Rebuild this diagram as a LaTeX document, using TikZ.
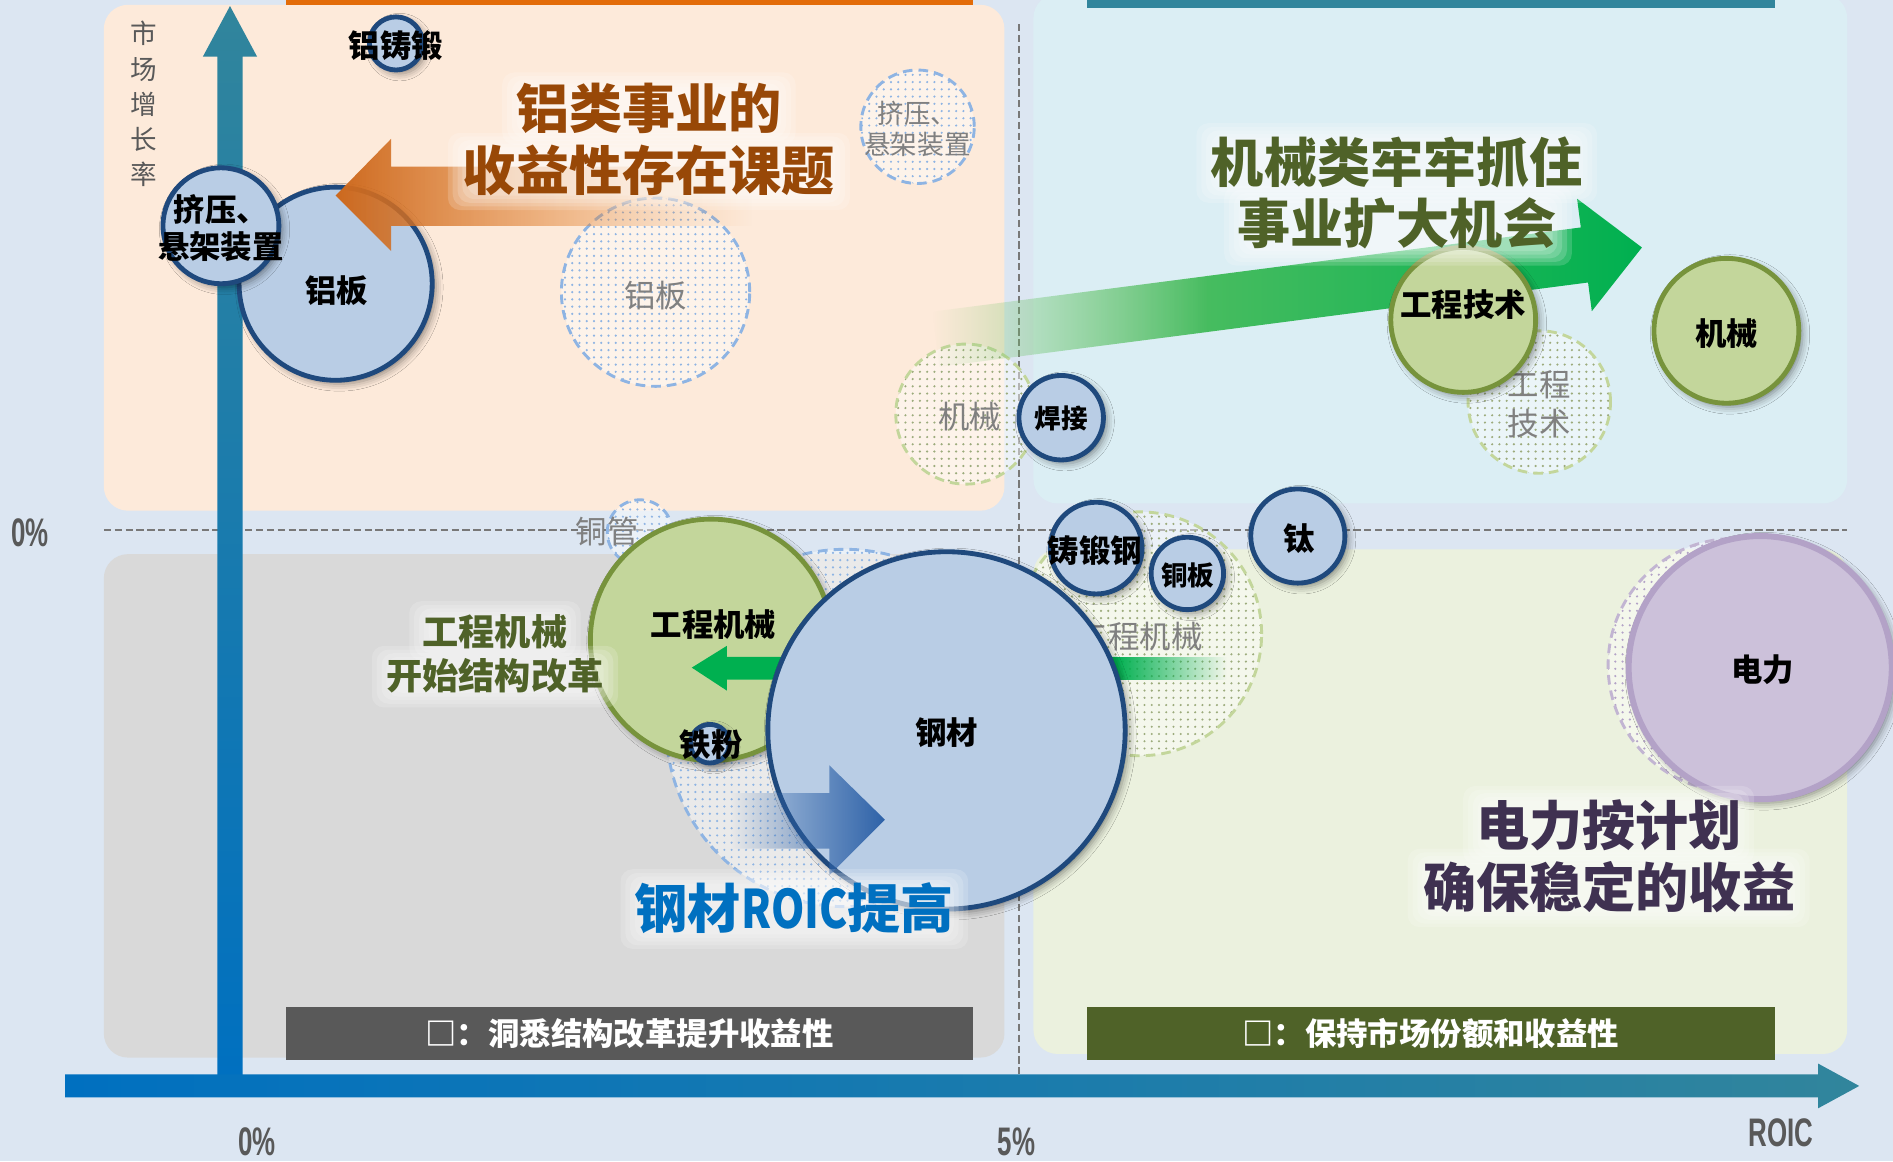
\documentclass[tikz,border=0pt]{standalone}
\usepackage{graphicx}
\usepackage{fontspec}
\setmainfont{Noto Sans CJK SC}
\newfontfamily\numfont{Liberation Sans}
\usetikzlibrary{shadows.blur,patterns,fadings}

\definecolor{bgc}{RGB}{220,230,242}
\definecolor{peach}{RGB}{253,234,218}
\definecolor{lblue}{RGB}{219,238,244}
\definecolor{lgray}{RGB}{217,217,217}
\definecolor{lgreen}{RGB}{235,241,222}
\definecolor{orgbar}{RGB}{227,108,9}
\definecolor{tealbar}{RGB}{49,133,156}
\definecolor{dgray}{RGB}{89,89,89}
\definecolor{olive}{RGB}{79,98,40}
\definecolor{cblue}{RGB}{185,205,229}
\definecolor{cnavy}{RGB}{31,73,125}
\definecolor{cgreen}{RGB}{195,214,155}
\definecolor{cgreenD}{RGB}{119,147,60}
\definecolor{cpurp}{RGB}{204,193,218}
\definecolor{cpurpD}{RGB}{179,162,199}
\definecolor{gblue}{RGB}{142,180,227}
\definecolor{ggreen}{RGB}{195,214,155}
\definecolor{gtext}{RGB}{128,128,128}
\definecolor{axblue}{RGB}{0,112,192}
\definecolor{axteal}{RGB}{49,133,156}
\definecolor{txtbrown}{RGB}{152,72,7}
\definecolor{txtblue}{RGB}{0,112,192}
\definecolor{txtpurp}{RGB}{63,49,81}
\definecolor{arrgreen}{RGB}{0,176,80}
\definecolor{arrgreenL}{RGB}{130,200,110}
\definecolor{arrgreenM}{RGB}{70,188,95}
\definecolor{arrblue}{RGB}{46,98,168}
\definecolor{orgA}{RGB}{205,105,30}
\definecolor{orgB}{RGB}{240,140,50}
\definecolor{dashgray}{RGB}{120,120,120}

\tikzfading[name=fadeOrange, left color=transparent!0, middle color=transparent!0, right color=transparent!100]
\tikzfading[name=fadeBlue, left color=transparent!100, middle color=transparent!0, right color=transparent!0]
\tikzfading[name=fadeOut, left color=transparent!0, right color=transparent!100]
\tikzfading[name=fadeIn, left color=transparent!100, middle color=transparent!45, right color=transparent!0]

\newcommand\glowrect[4]{%
  \foreach \k in {0,...,4}{%
    \fill[white, fill opacity=0.17, rounded corners=5pt]
      ({#1+\k*4},{#2+\k*3}) rectangle ({#3-\k*4},{#4-\k*3});}}

\tikzset{
  solidc/.style={circle, draw=cnavy, line width=2pt, fill=cblue, inner sep=0pt,
    blur shadow={shadow xshift=1.5pt, shadow yshift=-1.5pt, shadow blur radius=3pt, shadow opacity=45}},
  greenc/.style={solidc, draw=cgreenD, fill=cgreen},
  purpc/.style={solidc, draw=cpurpD, fill=cpurp, line width=2.5pt},
  ghostb/.style={circle, inner sep=0pt, draw=gblue, line width=1.2pt, dash pattern=on 4pt off 2.5pt,
    preaction={fill=white, fill opacity=0.45}, pattern=dots, pattern color=gblue},
  ghostg/.style={ghostb, draw=ggreen, pattern color=ggreen!80!black},
  ghostp/.style={ghostb, draw=cpurpD!80, pattern color=cpurpD},
  lbl/.style={font=\bfseries\fontsize{13pt}{15.5pt}\selectfont, text=black, align=center, inner sep=0pt},
  lbls/.style={lbl, font=\bfseries\fontsize{11pt}{13pt}\selectfont},
  glbl/.style={font=\fontsize{13pt}{16pt}\selectfont, text=gtext, align=center, inner sep=0pt},
  glbls/.style={glbl, font=\fontsize{11pt}{13pt}\selectfont},
  big/.style={font=\bfseries\fontsize{22pt}{25.5pt}\selectfont, align=center, inner sep=0pt},
  mid/.style={font=\bfseries\fontsize{15pt}{18.5pt}\selectfont, align=center, inner sep=0pt},
  axlbl/.style={font=\numfont\bfseries\fontsize{16.5pt}{18pt}\selectfont, text=dgray, inner sep=0pt},
  labbox/.style={minimum height=22pt, inner sep=0pt, text=white, font=\bfseries\fontsize{13pt}{15pt}\selectfont},
  quad/.style={rounded corners=10pt},
  gridline/.style={dashgray, line width=0.6pt, dash pattern=on 3pt off 1.5pt},
}

\begin{document}
\begin{tikzpicture}[x=0.5pt, y=-0.5pt]
\useasboundingbox (0,0) rectangle (1568,962);
\fill[bgc] (0,0) rectangle (1568,962);

% quadrants
\fill[quad, peach]  (86,4)   rectangle (832,423);
\fill[quad, lblue]  (856,-5) rectangle (1530,417);
\fill[quad, lgray]  (86,459) rectangle (832,876);
\fill[quad, lgreen] (856,455) rectangle (1530,873);
\fill[orgbar]  (237,-2) rectangle (806,4);
\fill[tealbar] (900,-2) rectangle (1470,7);

\node (boxL) [labbox, fill=dgray, minimum width=284.5pt] at (521.5,856) {□：洞悉结构改革提升收益性};
\node (boxR) [labbox, fill=olive, minimum width=285pt] at (1185,856) {□：保持市场份额和收益性};

% grid lines
\draw[gridline] (86,439) -- (1530,439);
\draw[gridline] (844,20) -- (844,895);

% axes
\shade[top color=axteal, bottom color=axblue]
  (180,895) -- (180,47) -- (168,47) -- (190.5,5) -- (213,47) -- (201,47) -- (201,895) -- cycle;
\shade[left color=axblue, right color=axteal]
  (54,890) -- (1506,890) -- (1506,881) -- (1540,899.5) -- (1506,918) -- (1506,909) -- (54,909) -- cycle;

% ghost circles
\node (gPow)   [ghostp, minimum size=105pt] at (1437,551) {};
\node (gExt)   [ghostb, minimum size=47pt]  at (760,105) {};
\node (gAlu)   [ghostb, minimum size=78pt]  at (543,242) {};
\node (gMach)  [ghostg, minimum size=58pt]  at (800,343) {};
\node (gEng)   [ghostg, minimum size=59pt]  at (1275,333) {};
\node (gCu)    [ghostb, minimum size=27pt]  at (530,441) {};
\node (gCon)   [ghostg, minimum size=101pt] at (944,525) {};
\node (gSteel) [ghostb, minimum size=148pt] at (700,603) {};
\node (gExtT)  [glbls] at (760,107) {挤压、\\悬架装置};
\node (gAluT)  [glbl] at (543,245) {铝板};
\node (gMachT) [glbl] at (803,345) {机械};
\node (gEngT)  [glbl] at (1275,335) {工程\\技术};
\node (gCuT)   [glbl] at (503,440) {铜管};
\node (gConT)  [glbl] at (944,527) {工程机械};

% aluminium group
\node (alu) [solidc, minimum size=80pt] at (278,235) {};
\shade[left color=orgA, right color=orgB, path fading=fadeOrange]
  (623,138) -- (324,138) -- (324,115) -- (278,162) -- (324,208) -- (324,187) -- (623,187) -- cycle;
\node (ext)  [solidc, minimum size=48pt] at (183,187) {};
\node (aluF) [solidc, minimum size=22pt] at (328,36) {};
\node (aluT)  [lbl] at (279,241) {铝板};
\node (extT)  [lbl] at (183,189) {挤压、\\悬架装置};
\node (aluFT) [lbl] at (328,38) {铝铸锻};

% machinery group: big green arrow (fading tail + solid head part)
\shade[left color=arrgreenL, right color=arrgreenM, path fading=fadeIn]
  (772,258.2) -- (1001,228.5) -- (1001,274.9) -- (778,303.8) -- cycle;
\shade[left color=arrgreenM, right color=arrgreen]
  (1000,228.6) -- (1309.4,188.4) -- (1306.3,164.6) -- (1360,205) -- (1318.5,257.8) -- (1315.4,234) -- (1000,275.0) -- cycle;
\node (engT) [greenc, minimum size=60pt] at (1212,265) {};
\node (mach) [greenc, minimum size=60pt] at (1430,274) {};
\node (weld) [solidc, minimum size=35pt] at (879,346) {};
\node (engTT) [lbl] at (1212,252) {工程技术};
\node (machT) [lbl] at (1430,276) {机械};
\node (weldT) [lbls] at (879,347) {焊接};

% steel / construction machinery group
\node (con) [greenc, minimum size=100pt] at (589,530) {};
\fill[arrgreen] (926,544) -- (602,544) -- (602,535) -- (573,553) -- (602,572) -- (602,563) -- (926,563) -- cycle;
\fill[arrgreen, path fading=fadeOut] (924,544) rectangle (1016,563);
\node (fe) [solidc, minimum size=16pt] at (588,616) {};
\node (steel) [solidc, minimum size=148pt] at (784,605) {};
\fill[arrblue, path fading=fadeBlue]
  (605,657) -- (687,657) -- (687,634) -- (733,679) -- (687,725) -- (687,703) -- (605,703) -- cycle;
\node (conT)   [lbl] at (591,517) {工程机械};
\node (feT)    [lbl] at (589,617) {铁粉};
\node (steelT) [lbl] at (784,607) {钢材};

% others
\node (forge) [solidc, minimum size=38pt] at (908,454) {};
\node (cuP)   [solidc, minimum size=30pt] at (983.5,475) {};
\node (ti)    [solidc, minimum size=39pt] at (1075,444) {};
\node (pow)   [purpc, minimum size=109pt] at (1458,553) {};
\node (forgeT) [lbl]  at (907,456) {铸锻钢};
\node (cuPT)   [lbls] at (984,477) {铜板};
\node (tiT)    [lbl]  at (1076,446) {钛};
\node (powT)   [lbl]  at (1460,555) {电力};

% soft white glow behind the annotations
\glowrect{416}{60}{659}{120}
\glowrect{371}{110}{704}{174}
\glowrect{991}{102}{1323}{168}
\glowrect{1014}{154}{1302}{220}
\glowrect{1212}{651}{1453}{716}
\glowrect{1166}{703}{1499}{768}
\glowrect{514}{720}{802}{786}
\glowrect{339}{498}{481}{547}
\glowrect{308}{535}{512}{586}

% annotations
\node (annAlu)   [big, text=txtbrown] at (537.5,115.5) {铝类事业的\\收益性存在课题};
\node (annMach)  [big, text=olive]    at (1157,160) {机械类牢牢抓住\\事业扩大机会};
\node (annPow)   [big, text=txtpurp]  at (1333,709) {电力按计划\\确保稳定的收益};
\node (annSteel) [big, text=txtblue]  at (658,752) {钢材\scalebox{0.8}[1]{ROIC}提高};
\node (annCon)   [mid, text=olive]    at (410,541.5) {工程机械\\开始结构改革};

% axis labels
\node (ylab) [font=\fontsize{11pt}{14.5pt}\selectfont, text=dgray, align=center, inner sep=0pt] at (119,86) {市\\场\\增\\长\\率};
\node (y0)  [axlbl] at (25,441)   {\scalebox{0.65}[1]{0\%}};
\node (x0)  [axlbl] at (213,946)  {\scalebox{0.65}[1]{0\%}};
\node (x5)  [axlbl] at (842,946)  {\scalebox{0.65}[1]{5\%}};
\node (xr)  [axlbl] at (1475,938) {\scalebox{0.65}[1]{ROIC}};
\end{tikzpicture}
\end{document}
